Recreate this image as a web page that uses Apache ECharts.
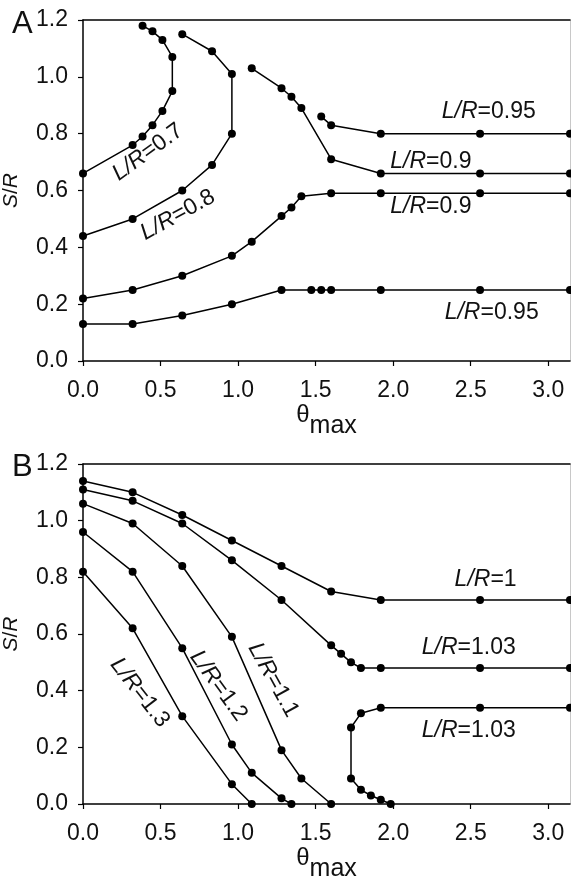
<!DOCTYPE html>
<html>
<head>
<meta charset="utf-8">
<script src="https://cdn.jsdelivr.net/npm/echarts@6/dist/echarts.min.js"></script>
<style>
html,body{margin:0;padding:0;background:#fff;}
#chart{width:571px;height:881px;}
</style>
</head>
<body>
<div id="chart"></div>
<script>
// ---- Panel A data (theta_max, S/R) ----
const A07_x = [0, 0.32, 0.384, 0.448, 0.512, 0.576, 0.576, 0.512, 0.448, 0.384];
const A07_y = [0.66, 0.76, 0.79, 0.83, 0.88, 0.95, 1.07, 1.13, 1.16, 1.18];
const A08_x = [0, 0.32, 0.64, 0.832, 0.96, 0.96, 0.832, 0.64];
const A08_y = [0.44, 0.50, 0.60, 0.69, 0.80, 1.01, 1.09, 1.15];
const A09u_x = [1.088, 1.28, 1.344, 1.408, 1.6, 1.92, 2.56, 3.14];
const A09u_y = [1.03, 0.96, 0.93, 0.89, 0.71, 0.66, 0.66, 0.66];
const A095u_x = [1.536, 1.6, 1.92, 2.56, 3.14];
const A095u_y = [0.86, 0.83, 0.80, 0.80, 0.80];
const A09l_x = [0, 0.32, 0.64, 0.96, 1.088, 1.28, 1.344, 1.408, 1.6, 1.92, 2.56, 3.14];
const A09l_y = [0.22, 0.25, 0.30, 0.37, 0.42, 0.51, 0.54, 0.58, 0.59, 0.59, 0.59, 0.59];
const A095l_x = [0, 0.32, 0.64, 0.96, 1.28, 1.472, 1.536, 1.6, 1.92, 2.56, 3.14];
const A095l_y = [0.13, 0.13, 0.16, 0.20, 0.25, 0.25, 0.25, 0.25, 0.25, 0.25, 0.25];

// ---- Panel B data ----
const B1_x = [0, 0.32, 0.64, 0.96, 1.28, 1.6, 1.92, 2.56, 3.14];
const B1_y = [1.14, 1.10, 1.02, 0.93, 0.84, 0.75, 0.72, 0.72, 0.72];
const B103u_x = [0, 0.32, 0.64, 0.96, 1.28, 1.6, 1.664, 1.728, 1.792, 1.92, 2.56, 3.14];
const B103u_y = [1.11, 1.07, 0.99, 0.86, 0.72, 0.56, 0.53, 0.50, 0.48, 0.48, 0.48, 0.48];
const B11_x = [0, 0.32, 0.64, 0.96, 1.28, 1.408, 1.6];
const B11_y = [1.06, 0.99, 0.84, 0.59, 0.19, 0.09, 0];
const B12_x = [0, 0.32, 0.64, 0.96, 1.088, 1.28, 1.344];
const B12_y = [0.96, 0.82, 0.55, 0.21, 0.11, 0.02, 0];
const B13_x = [0, 0.32, 0.64, 0.96, 1.088];
const B13_y = [0.82, 0.62, 0.31, 0.07, 0];
const B103l_x = [3.14, 2.56, 1.92, 1.792, 1.728, 1.728, 1.792, 1.856, 1.92, 1.984];
const B103l_y = [0.34, 0.34, 0.34, 0.32, 0.27, 0.09, 0.05, 0.03, 0.015, 0];

// ---- tick labels ----
const xTicks = [0, 0.5, 1.0, 1.5, 2.0, 2.5, 3.0];
const yTicks = [0, 0.2, 0.4, 0.6, 0.8, 1.0, 1.2];

// ---- curve annotations: [text value, x, y, rotation deg] ----
const labelsA = [
  ['0.95', 2.616, 0.876, 0],
  ['0.9', 2.243, 0.700, 0],
  ['0.9', 2.243, 0.542, 0],
  ['0.95', 2.635, 0.169, 0],
  ['0.7', 0.418, 0.735, 36],
  ['0.8', 0.611, 0.514, 29]
];
const labelsB = [
  ['1', 2.596, 0.791, 0],
  ['1.03', 2.487, 0.551, 0],
  ['1.03', 2.487, 0.259, 0],
  ['1.3', 0.366, 0.393, -52],
  ['1.2', 0.874, 0.417, -54],
  ['1.1', 1.227, 0.438, -61]
];

const FONT = 'Liberation Sans, Arial, Helvetica, sans-serif';
const TXT = '#111';
const zip = (xs, ys) => xs.map((x, i) => [x, ys[i]]);

const chart = echarts.init(document.getElementById('chart'), null, {renderer: 'canvas'});

function bottomX(grid) {
  return {
    type: 'value', gridIndex: grid, min: 0, max: 3.14, position: 'bottom',
    name: '{t|θ}{s|max}', nameLocation: 'middle', nameGap: 40,
    nameTextStyle: {
      rich: {
        t: {fontFamily: FONT, fontSize: 24, color: TXT, verticalAlign: 'top', lineHeight: 30},
        s: {fontFamily: FONT, fontSize: 25, color: TXT, verticalAlign: 'bottom', lineHeight: 30, padding: [0, 0, -6, 0]}
      }
    },
    axisLine: {show: true, onZero: false, lineStyle: {color: '#000', width: 1.5}},
    axisTick: {show: true, inside: false, length: 5, customValues: xTicks, lineStyle: {color: '#000', width: 1.2}},
    axisLabel: {customValues: xTicks, formatter: v => v.toFixed(1), fontFamily: FONT, fontSize: 23, color: TXT, margin: 18},
    splitLine: {show: false}
  };
}
function topX(grid) {
  return {
    type: 'value', gridIndex: grid, min: 0, max: 3.14, position: 'top',
    axisLine: {show: true, onZero: false, lineStyle: {color: '#000', width: 1.5}},
    axisTick: {show: false}, axisLabel: {show: false}, splitLine: {show: false}
  };
}
function leftY(grid) {
  return {
    type: 'value', gridIndex: grid, min: 0, max: 1.2, interval: 0.2, position: 'left',
    name: '{i|S}/{i|R}', nameLocation: 'middle', nameGap: 61, nameRotate: 90,
    nameTextStyle: {
      fontFamily: FONT, fontSize: 21, color: TXT,
      rich: {i: {fontFamily: FONT, fontSize: 21, color: TXT, fontStyle: 'italic'}}
    },
    axisLine: {show: true, onZero: false, lineStyle: {color: '#000', width: 1.5}},
    axisTick: {show: true, inside: false, length: 5, lineStyle: {color: '#000', width: 1.2}},
    axisLabel: {formatter: v => v.toFixed(1), fontFamily: FONT, fontSize: 23, color: TXT, margin: 15},
    splitLine: {show: false}
  };
}
function rightY(grid) {
  return {
    type: 'value', gridIndex: grid, min: 0, max: 1.2, position: 'right',
    axisLine: {show: true, onZero: false, lineStyle: {color: '#c8c8c8', width: 1}},
    axisTick: {show: false}, axisLabel: {show: false}, splitLine: {show: false}
  };
}
function curve(xs, ys, xi, yi) {
  return {
    type: 'line', xAxisIndex: xi, yAxisIndex: yi, data: zip(xs, ys),
    symbol: 'circle', symbolSize: 8, showSymbol: true, clip: false,
    lineStyle: {color: '#000', width: 1.5},
    itemStyle: {color: '#000'},
    animation: false, z: 3
  };
}

chart.setOption({
  animation: false,
  backgroundColor: '#fff',
  title: [
    {text: 'A', left: 7, top: 4, textStyle: {fontFamily: FONT, fontSize: 31, fontWeight: 'normal', color: TXT}},
    {text: 'B', left: 7, top: 447, textStyle: {fontFamily: FONT, fontSize: 31, fontWeight: 'normal', color: TXT}}
  ],
  grid: [
    {left: 83, right: 1, top: 20, height: 341, containLabel: false, outerBoundsMode: 'none'},
    {left: 83, right: 1, top: 464, height: 340, containLabel: false, outerBoundsMode: 'none'}
  ],
  xAxis: [bottomX(0), topX(0), bottomX(1), topX(1)],
  yAxis: [leftY(0), rightY(0), leftY(1), rightY(1)],
  series: [
    curve(A07_x, A07_y, 0, 0),
    curve(A08_x, A08_y, 0, 0),
    curve(A09u_x, A09u_y, 0, 0),
    curve(A095u_x, A095u_y, 0, 0),
    curve(A09l_x, A09l_y, 0, 0),
    curve(A095l_x, A095l_y, 0, 0),
    curve(B1_x, B1_y, 2, 2),
    curve(B103u_x, B103u_y, 2, 2),
    curve(B11_x, B11_y, 2, 2),
    curve(B12_x, B12_y, 2, 2),
    curve(B13_x, B13_y, 2, 2),
    curve(B103l_x, B103l_y, 2, 2)
  ]
});

function makeLabels(list, xi, yi) {
  return list.map(([val, x, y, rot]) => {
    const p = chart.convertToPixel({xAxisIndex: xi, yAxisIndex: yi}, [x, y]);
    return {
      type: 'text', x: p[0], y: p[1], rotation: rot * Math.PI / 180, z: 10,
      style: {
        text: '{i|L/R}=' + val,
        fontFamily: FONT, fontSize: 23, fill: TXT,
        align: 'center', verticalAlign: 'middle',
        rich: {i: {fontFamily: FONT, fontSize: 23, fontStyle: 'italic', fill: TXT}}
      }
    };
  });
}
chart.setOption({graphic: makeLabels(labelsA, 0, 0).concat(makeLabels(labelsB, 2, 2))});
</script>
</body>
</html>
